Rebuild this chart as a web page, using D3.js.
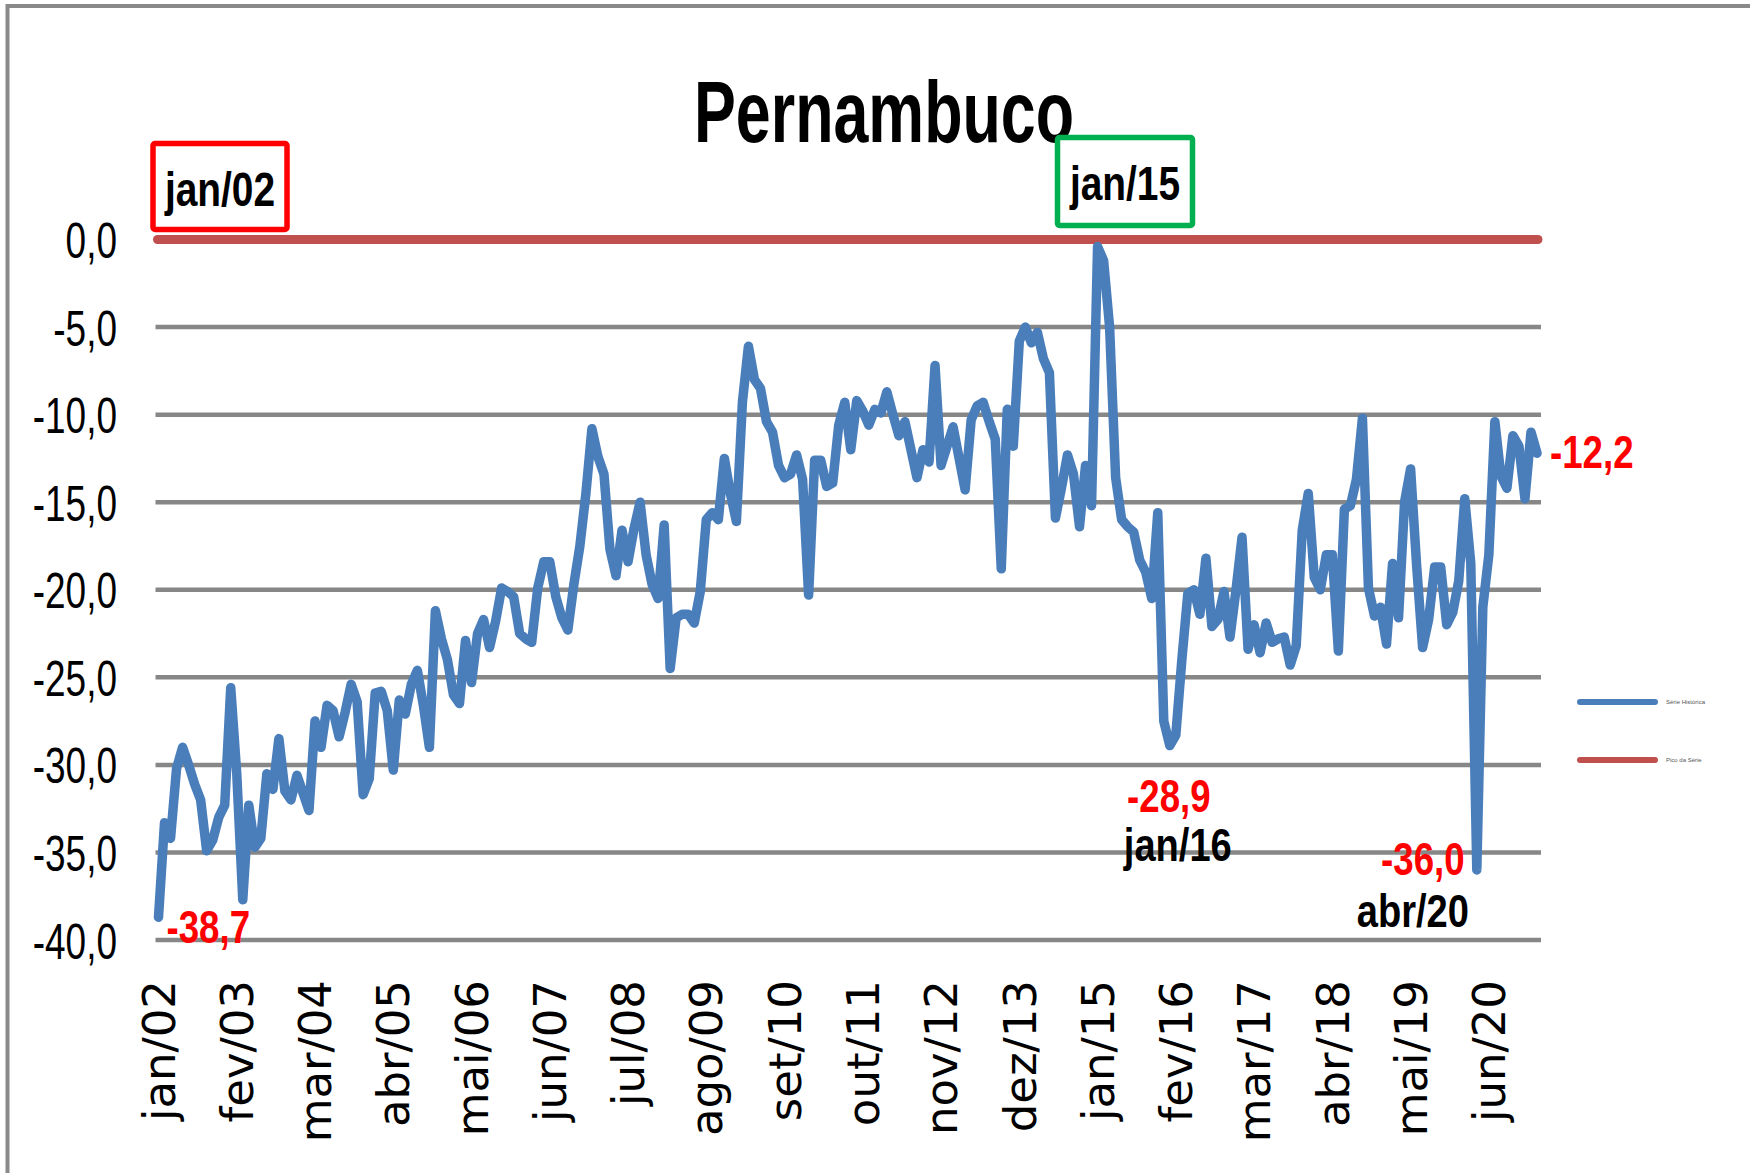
<!DOCTYPE html>
<html>
<head>
<meta charset="utf-8">
<script src="https://cdn.jsdelivr.net/npm/d3@7"></script>
<style>
  html, body { margin: 0; padding: 0; background: #fff; }
  svg { display: block; }
</style>
</head>
<body>
<div id="chart"></div>
<script>
// monthly series, jan/02 .. fev/21
const monthNames = ["jan", "fev", "mar", "abr", "mai", "jun", "jul", "ago", "set", "out", "nov", "dez"];
const firstYear = 2;

const serieHistorica = [
  -38.7, -33.3, -34.2, -30.2, -29.0, -30.0, -31.1, -32.0, -34.9, -34.3,
  -33.0, -32.3, -25.6, -30.5, -37.7, -32.3, -34.7, -34.2, -30.5, -31.4,
  -28.5, -31.5, -32.0, -30.6, -31.6, -32.6, -27.5, -29.0, -26.6, -26.9,
  -28.4, -27.0, -25.4, -26.4, -31.7, -30.8, -25.9, -25.8, -26.9, -30.3,
  -26.3, -27.1, -25.4, -24.6, -26.6, -29.0, -21.2, -22.8, -24.0, -26.0,
  -26.5, -22.9, -25.3, -22.5, -21.7, -23.3, -21.8, -19.9, -20.1, -20.4,
  -22.5, -22.8, -23.0, -19.9, -18.4, -18.4, -20.4, -21.6, -22.3, -19.7,
  -17.5, -14.5, -10.8, -12.4, -13.4, -17.7, -19.2, -16.6, -18.4, -16.5,
  -15.0, -18.0, -19.7, -20.5, -16.3, -24.5, -21.6, -21.4, -21.4, -21.9,
  -20.1, -16.0, -15.6, -16.0, -12.5, -14.5, -16.1, -9.3, -6.1, -8.0,
  -8.5, -10.4, -11.0, -12.9, -13.6, -13.4, -12.3, -13.7, -20.3, -12.6,
  -12.6, -14.1, -13.9, -10.6, -9.3, -12.0, -9.2, -9.8, -10.6, -9.7,
  -9.9, -8.7, -10.0, -11.2, -10.4, -12.0, -13.6, -12.0, -12.7, -7.2,
  -12.9, -11.8, -10.7, -12.5, -14.3, -10.3, -9.5, -9.3, -10.4, -11.4,
  -18.8, -9.7, -11.8, -5.8, -5.0, -5.9, -5.3, -6.8, -7.6, -15.9,
  -14.2, -12.3, -13.4, -16.4, -12.9, -15.2, -0.4, -1.2, -5.0, -13.6,
  -16.0, -16.4, -16.7, -18.3, -19.0, -20.5, -15.6, -27.5, -28.9, -28.3,
  -24.0, -20.2, -20.0, -21.4, -18.2, -22.1, -21.7, -20.1, -22.7, -20.0,
  -17.0, -23.4, -22.0, -23.6, -21.9, -23.0, -22.8, -22.7, -24.3, -23.2,
  -16.6, -14.5, -19.3, -20.0, -18.0, -18.0, -23.5, -15.4, -15.2, -13.7,
  -10.2, -19.9, -21.5, -21.0, -23.1, -18.5, -21.6, -15.0, -13.1, -18.6,
  -23.3, -21.7, -18.7, -18.7, -22.0, -21.3, -19.5, -14.8, -18.5, -36.0,
  -21.0, -18.0, -10.4, -13.5, -14.2, -11.2, -11.8, -14.8, -11.0, -12.2
];

const picoSerie = 0;   // "Pico da Série" level

const tickLabels = ["jan/02", "fev/03", "mar/04", "abr/05", "mai/06", "jun/07",
  "jul/08", "ago/09", "set/10", "out/11", "nov/12", "dez/13", "jan/15",
  "fev/16", "mar/17", "abr/18", "mai/19", "jun/20"];

const yTicks = [0, -5, -10, -15, -20, -25, -30, -35, -40];

// category label for each month
const categories = serieHistorica.map((d, i) => {
  const m = i % 12;
  const y = firstYear + Math.floor(i / 12);
  return `${monthNames[m]}/${String(y).padStart(2, "0")}`;
});

const width = 1750;
const height = 1173;
// no Calibri here, so squeeze Liberation Sans horizontally
const sansFont = "'Liberation Sans', Arial, sans-serif";

const svg = d3.select("#chart")
  .append("svg")
  .attr("width", width)
  .attr("height", height);

// helper for condensed-looking text
function narrowText(parent, o) {
  return parent.append("text")
    .attr("transform", `translate(${o.x},${o.y}) scale(${o.sx},1)`)
    .attr("text-anchor", o.anchor || "start")
    .attr("font-family", sansFont)
    .attr("font-weight", o.weight || "normal")
    .attr("font-size", o.size)
    .attr("fill", o.color || "#000")
    .text(o.text);
}

// outer frame (runs off the right/bottom edges)
svg.append("rect")
  .attr("x", 7.5)
  .attr("y", 6)
  .attr("width", 1800)
  .attr("height", 1300)
  .attr("fill", "#fff")
  .attr("stroke", "#8a8a8a")
  .attr("stroke-width", 4);

const xScale = d3.scalePoint()
  .domain(categories)
  .range([158.5, 1537]);

const yScale = d3.scaleLinear()
  .domain([-40, 0])
  .range([940, 239.5]);

const xLeft = xScale(categories[0]) - 3;
const xRight = xScale(categories[categories.length - 1]) + 4;

// horizontal gridlines
svg.append("g")
  .selectAll("line")
  .data(yTicks)
  .join("line")
  .attr("x1", xLeft)
  .attr("x2", xRight)
  .attr("y1", (d) => yScale(d))
  .attr("y2", (d) => yScale(d))
  .attr("stroke", "#878787")
  .attr("stroke-width", 4.5);

// y axis labels
const yAxis = svg.append("g")
  .attr("transform", "translate(117,0)")
  .call(d3.axisLeft(yScale)
    .tickValues(yTicks)
    .tickSize(0)
    .tickPadding(0)
    .tickFormat((d) => d3.format(".1f")(d).replace(".", ",").replace("−", "-")));
yAxis.select(".domain").remove();
yAxis.selectAll("text")
  .attr("font-family", sansFont)
  .attr("font-size", 50)
  .attr("dy", "0.36em")
  .attr("transform", "scale(0.74,1)")
  .attr("fill", "#000");

// x axis labels, rotated
const xAxis = svg.append("g")
  .attr("transform", "translate(0,980)");
xAxis.selectAll("text")
  .data(tickLabels)
  .join("text")
  .attr("transform", (d) => `translate(${xScale(d)},0) rotate(-90)`)
  .attr("dy", "0.36em")
  .attr("text-anchor", "end")
  .attr("font-family", "'DejaVu Sans', Verdana, sans-serif")
  .attr("font-size", 45)
  .attr("fill", "#000")
  .text((d) => d);

// "Pico da Série" line at 0
svg.append("line")
  .attr("x1", xScale(categories[0]) - 1)
  .attr("x2", xScale(categories[categories.length - 1]) + 1)
  .attr("y1", yScale(picoSerie))
  .attr("y2", yScale(picoSerie))
  .attr("stroke", "#C0504D")
  .attr("stroke-width", 9)
  .attr("stroke-linecap", "round");

// main series
const line = d3.line()
  .x((d, i) => xScale(categories[i]))
  .y((d) => yScale(d));

svg.append("path")
  .datum(serieHistorica)
  .attr("d", line)
  .attr("fill", "none")
  .attr("stroke", "#4A7EBB")
  .attr("stroke-width", 9.5)
  .attr("stroke-linejoin", "round")
  .attr("stroke-linecap", "round");

// title
svg.append("text")
  .attr("x", 884)
  .attr("y", 142)
  .attr("text-anchor", "middle")
  .attr("font-family", sansFont)
  .attr("font-weight", "bold")
  .attr("font-size", 88)
  .attr("textLength", 380)
  .attr("lengthAdjust", "spacingAndGlyphs")
  .text("Pernambuco");

// boxed date labels
const boxes = [
  { text: "jan/02", x: 153, y: 143.5, w: 134, h: 86, color: "#FF0000" },
  { text: "jan/15", x: 1057.5, y: 137.5, w: 135, h: 88, color: "#00B050" },
];
const boxG = svg.append("g");
boxG.selectAll("rect")
  .data(boxes)
  .join("rect")
  .attr("x", (d) => d.x)
  .attr("y", (d) => d.y)
  .attr("width", (d) => d.w)
  .attr("height", (d) => d.h)
  .attr("rx", 2)
  .attr("fill", "#fff")
  .attr("stroke", (d) => d.color)
  .attr("stroke-width", 5.5);
boxes.forEach((b) => {
  narrowText(boxG, {
    x: b.x + b.w / 2, y: b.y + 62, text: b.text, anchor: "middle",
    size: 48, weight: "bold", sx: 0.81,
  });
});

// value / date callouts
const fmt = (v) => v.toFixed(1).replace(".", ",");
const last = serieHistorica.length - 1;
const iJan16 = categories.indexOf("jan/16");
const iAbr20 = categories.indexOf("abr/20");

const callouts = [
  { t: fmt(serieHistorica[0]), x: xScale(categories[0]) + 8, y: yScale(serieHistorica[0]) + 26, anchor: "start", color: "#FF0000", sx: 0.78 },
  { t: fmt(serieHistorica[iJan16]), x: xScale(categories[iJan16]) - 1, y: yScale(serieHistorica[iJan16]) + 66, anchor: "middle", color: "#FF0000", sx: 0.78 },
  { t: categories[iJan16], x: xScale(categories[iJan16]) + 8, y: yScale(serieHistorica[iJan16]) + 115, anchor: "middle", color: "#000", sx: 0.81 },
  { t: fmt(serieHistorica[iAbr20]), x: xScale(categories[iAbr20]) - 54, y: yScale(serieHistorica[iAbr20]) + 5, anchor: "middle", color: "#FF0000", sx: 0.78 },
  { t: categories[iAbr20], x: xScale(categories[iAbr20]) - 64, y: yScale(serieHistorica[iAbr20]) + 57, anchor: "middle", color: "#000", sx: 0.81 },
  { t: fmt(serieHistorica[last]), x: xScale(categories[last]) + 13, y: yScale(serieHistorica[last]) + 15, anchor: "start", color: "#FF0000", sx: 0.78 },
];

const calloutG = svg.append("g");
callouts.forEach((c) => {
  narrowText(calloutG, {
    x: c.x, y: c.y, text: c.t, anchor: c.anchor,
    size: 47, weight: "bold", color: c.color, sx: c.sx,
  });
});

// legend
const legendItems = [
  { name: "Série Histórica", color: "#4A7EBB", y: 702 },
  { name: "Pico da Série", color: "#C0504D", y: 760 },
];
const legend = svg.append("g");
legend.selectAll("line")
  .data(legendItems)
  .join("line")
  .attr("x1", 1580)
  .attr("x2", 1655)
  .attr("y1", (d) => d.y)
  .attr("y2", (d) => d.y)
  .attr("stroke", (d) => d.color)
  .attr("stroke-width", 6)
  .attr("stroke-linecap", "round");
legend.selectAll("text")
  .data(legendItems)
  .join("text")
  .attr("x", 1666)
  .attr("y", (d) => d.y + 2)
  .attr("font-family", sansFont)
  .attr("font-size", 6)
  .attr("fill", "#555")
  .text((d) => d.name);
</script>
</body>
</html>
